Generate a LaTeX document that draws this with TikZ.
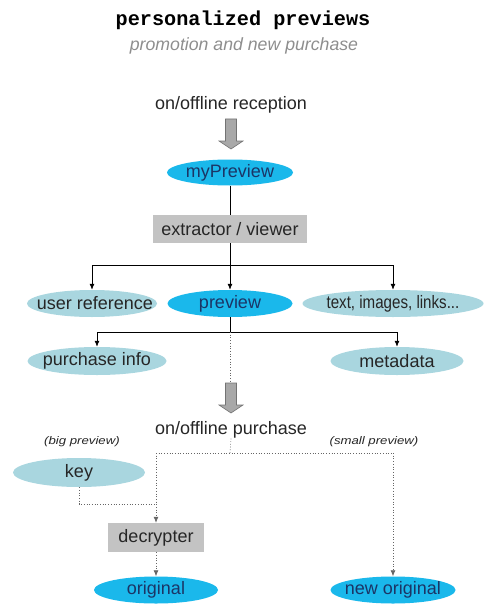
\documentclass[tikz,border=0pt]{standalone}
\usepackage{fontspec}
\setmainfont{Liberation Sans}
\newfontfamily\titlefont{Liberation Mono}
\usetikzlibrary{shapes.geometric,arrows.meta}
\definecolor{cyanfill}{HTML}{1AB8EB}
\definecolor{paleblue}{HTML}{A9D6DF}
\definecolor{navytext}{HTML}{1B3566}
\definecolor{darktext}{HTML}{262626}
\definecolor{boxgray}{HTML}{C3C3C3}
\definecolor{blockgray}{HTML}{A8A8A8}
\definecolor{subgray}{HTML}{8E8E8E}
% label of zero width, so the ellipse keeps its given size
\newcommand\lbl[1]{\makebox[0pt]{#1}}
\tikzset{
  txt/.style={font=\fontsize{18}{21}\selectfont, text=darktext, inner sep=0pt},
  mainnode/.style={ellipse, fill=cyanfill, text=navytext, inner sep=0pt,
    minimum height=26pt, font=\fontsize{18}{21}\selectfont},
  sidenode/.style={ellipse, fill=paleblue, text=darktext, inner sep=0pt,
    minimum height=28pt, font=\fontsize{18}{21}\selectfont},
  procbox/.style={rectangle, fill=boxgray, text=darktext, inner sep=0pt,
    minimum height=28pt, font=\fontsize{18}{21}\selectfont},
  note/.style={font=\fontsize{11}{13}\selectfont\itshape, text=darktext, inner sep=0pt},
  flow/.style={-{Latex[length=6pt,width=5pt]}, line width=0.8pt},
  plain/.style={line width=0.8pt},
  dotline/.style={dotted, line width=0.7pt, draw=black!60},
  dotflow/.style={dotline, -{Latex[length=6pt,width=5pt]}},
  blockarrow/.style={fill=blockgray, draw=black!55, line width=0.6pt}
}
\begin{document}
\begin{tikzpicture}[x=1pt,y=-1pt]
\useasboundingbox (0,0) rectangle (488,615);

% heading
\node[font=\titlefont\bfseries\fontsize{20.2}{22}\selectfont, inner sep=0pt] (title) at (243,20) {personalized previews};
\node[font=\itshape\fontsize{17.7}{20}\selectfont, text=subgray, inner sep=0pt] (subtitle) at (244,46) {promotion and new purchase};

% reception stage
\node[txt] (recv) at (231,105) {on/offline reception};
\filldraw[blockarrow] (225.5,119) -- (236.5,119) -- (236.5,141) -- (243,141)
  -- (231,149) -- (219,141) -- (225.5,141) -- cycle;
\node[mainnode, minimum width=126pt] (mypv) at (230,172.5) {\lbl{myPreview}};
\node[procbox, minimum width=154pt] (extr) at (230,229) {extractor / viewer};

% extracted parts
\node[sidenode, minimum width=130pt, minimum height=27pt] (uref) at (92,303.5) {\lbl{\hspace{6pt}user reference}};
\node[mainnode, minimum width=125pt, minimum height=27pt] (pv) at (230,303.5) {\lbl{preview}};
\node[sidenode, minimum width=181pt, minimum height=27pt] (links) at (393,303.5) {\lbl{\scalebox{0.84}[1]{text, images, links...}}};
\node[sidenode, minimum width=139pt] (pinfo) at (97,361) {\lbl{purchase info}};
\node[sidenode, minimum width=133pt] (meta) at (397,361) {\lbl{metadata}};

\draw[plain] (mypv) -- (extr);
\coordinate (j1) at (230,265);
\draw[plain] (extr.south) -- (j1);
\draw[plain] (j1 -| uref) -- (j1 -| links);
\draw[flow] (j1 -| uref) -- (uref.north);
\draw[flow] (j1) -- (pv.north);
\draw[flow] (j1 -| links) -- (links.north);

\coordinate (j2) at (230,332);
\draw[plain] (pv.south) -- (j2);
\draw[plain] (j2 -| pinfo) -- (j2 -| meta);
\draw[flow] (j2 -| pinfo) -- (pinfo.north);
\draw[flow] (j2 -| meta) -- (meta.north);

% purchase stage
\coordinate (blk) at (230,383);
\draw[dotline] (j2) -- (blk);
\filldraw[blockarrow] (225.5,383) -- (236.5,383) -- (236.5,405) -- (243,405)
  -- (231,413) -- (219,405) -- (225.5,405) -- cycle;
\node[txt] (buy) at (231,430) {on/offline purchase};
\node[note] (big) at (82,442) {\scalebox{1.2}[1]{(big preview)}};
\node[note] (small) at (374,442) {\scalebox{1.2}[1]{(small preview)}};

\node[sidenode, minimum width=132pt, minimum height=29pt] (key) at (79,472.5) {\lbl{key}};
\node[procbox, minimum width=96pt, minimum height=29pt] (decr) at (156,537.5) {decrypter};
\node[mainnode, minimum width=124pt, minimum height=27pt] (orig) at (156,590) {\lbl{original}};
\node[mainnode, minimum width=125pt, minimum height=27pt] (neworig) at (393,590) {\lbl{new original}};

\coordinate (j3) at (230,453);
\coordinate (kj) at (156,504);
\draw[dotline] (buy.south) -- (j3);
\draw[dotline] (j3 -| decr) -- (j3 -| neworig);
\draw[dotflow] (j3 -| neworig) -- (neworig.north);
\draw[dotflow] (j3 -| decr) -- (decr.north);
\draw[dotline] (key.south) |- (kj);
\draw[dotflow] (decr.south) -- (orig.north);
\end{tikzpicture}
\end{document}
